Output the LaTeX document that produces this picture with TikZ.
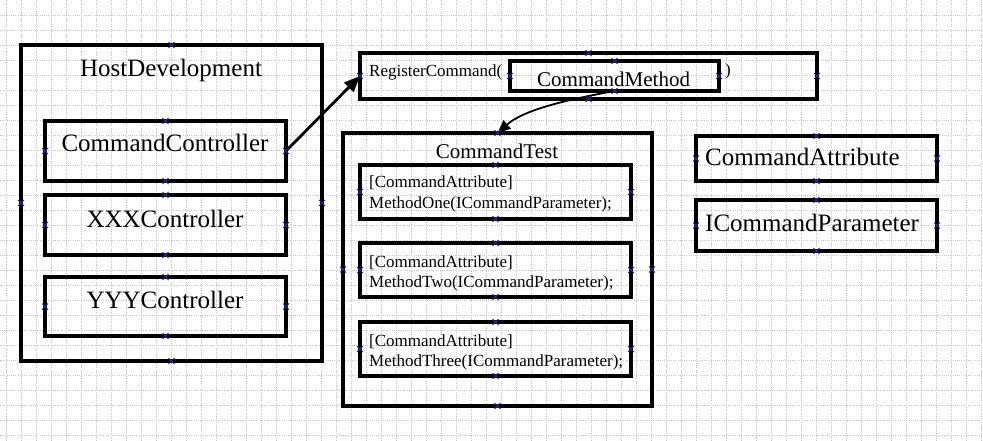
\documentclass[tikz,border=0pt]{standalone}
\usepackage{fontspec}
\setmainfont{Liberation Serif}
\usetikzlibrary{arrows.meta}
\definecolor{gridc}{RGB}{200,200,200}
\definecolor{markc}{RGB}{40,40,150}
\tikzset{
  box/.style={draw=black, line width=3.2pt, inner sep=0pt, outer sep=0pt, rectangle},
  big/.style={font=\fontsize{25}{30}\selectfont, inner sep=0pt},
  mid/.style={font=\fontsize{21}{25}\selectfont, inner sep=0pt},
  small/.style={font=\fontsize{17}{20}\selectfont, inner sep=0pt},
  gridline/.style={draw=gridc, line width=0.7pt, dash pattern=on 1pt off 1.2pt},
  cpmark/.style={draw=markc, line width=0.9pt},
  bigarrow/.style={line width=2.8pt, -{Triangle[length=16pt,width=13pt]}},
  thinarrow/.style={line width=1.8pt, -{Triangle[length=13pt,width=11pt]}}
}
\begin{document}
\begin{tikzpicture}[x=1pt,y=-1pt]
\fill[white] (0,0) rectangle (983,441);
\useasboundingbox (0,0) rectangle (983,441);
% grid
\foreach \i in {0,...,65} \draw[gridline] ({6.7+15*\i},0) -- ({6.7+15*\i},441);
\foreach \j in {1,...,29} \draw[gridline] (0,{15*\j}) -- (983,{15*\j});

% boxes
\node[box, minimum width=301pt, minimum height=316pt] (host) at (171.5,203) {};
\node[box, minimum width=241pt, minimum height=60pt] (cc) at (165.5,151) {};
\node[box, minimum width=241pt, minimum height=60pt] (xxx) at (165.5,225) {};
\node[box, minimum width=241pt, minimum height=59pt] (yyy) at (165.5,306.5) {};
\node[box, minimum width=457pt, minimum height=46pt] (reg) at (588.5,76) {};
\node[box, minimum width=209pt, minimum height=30pt] (cm) at (614.5,76) {};
\node[box, minimum width=309pt, minimum height=273pt] (ct) at (497.5,269.5) {};
\node[box, minimum width=271pt, minimum height=54pt] (m1) at (495.5,192) {};
\node[box, minimum width=271pt, minimum height=54pt] (m2) at (495.5,270) {};
\node[box, minimum width=271pt, minimum height=54pt] (m3) at (495.5,349) {};
\node[box, minimum width=241pt, minimum height=45pt] (ca) at (816.5,158.5) {};
\node[box, minimum width=241pt, minimum height=51pt] (icp) at (816.5,225.5) {};

% texts
\node[big, anchor=base] (thost) at (171,77) {HostDevelopment};
\node[big, anchor=base] (tcc) at (165,152) {CommandController};
\node[big, anchor=base] (txxx) at (165,227) {XXXController};
\node[big, anchor=base] (tyyy) at (165,308) {YYYController};
\node[small, anchor=base west] (treg) at (369,77) {RegisterCommand(};
\node[mid, anchor=base west] (tcm) at (537,87) {CommandMethod};
\node[small, anchor=base west] (tparen) at (725,76) {)};
\node[mid, anchor=base] (tct) at (497,159) {CommandTest};
\node[small, anchor=base west] (m1a) at (369,188) {[CommandAttribute]};
\node[small, anchor=base west] (m1b) at (369,208) {MethodOne(ICommandParameter);};
\node[small, anchor=base west] (m2a) at (369,267) {[CommandAttribute]};
\node[small, anchor=base west] (m2b) at (369,287) {MethodTwo(ICommandParameter);};
\node[small, anchor=base west] (m3a) at (369,346) {[CommandAttribute]};
\node[small, anchor=base west] (m3b) at (369,366) {MethodThree(ICommandParameter);};
\node[big, anchor=base west] (tca) at (705,166) {CommandAttribute};
\node[big, anchor=base west] (ticp) at (705,231) {ICommandParameter};

% connectors
\draw[bigarrow] (cc.east) -- (reg.west);
\draw[thinarrow] (cm.south) .. controls +(-55,10) and +(25,-22) .. (ct.north);

% connection points
\foreach \n in {host,cc,xxx,yyy,reg,cm,ct,m1,m2,m3,ca,icp}
  \foreach \a in {north,south,east,west}
    \draw[cpmark] (\n.\a) +(-3,-3) -- +(3,3) +(-3,3) -- +(3,-3);
\end{tikzpicture}
\end{document}
